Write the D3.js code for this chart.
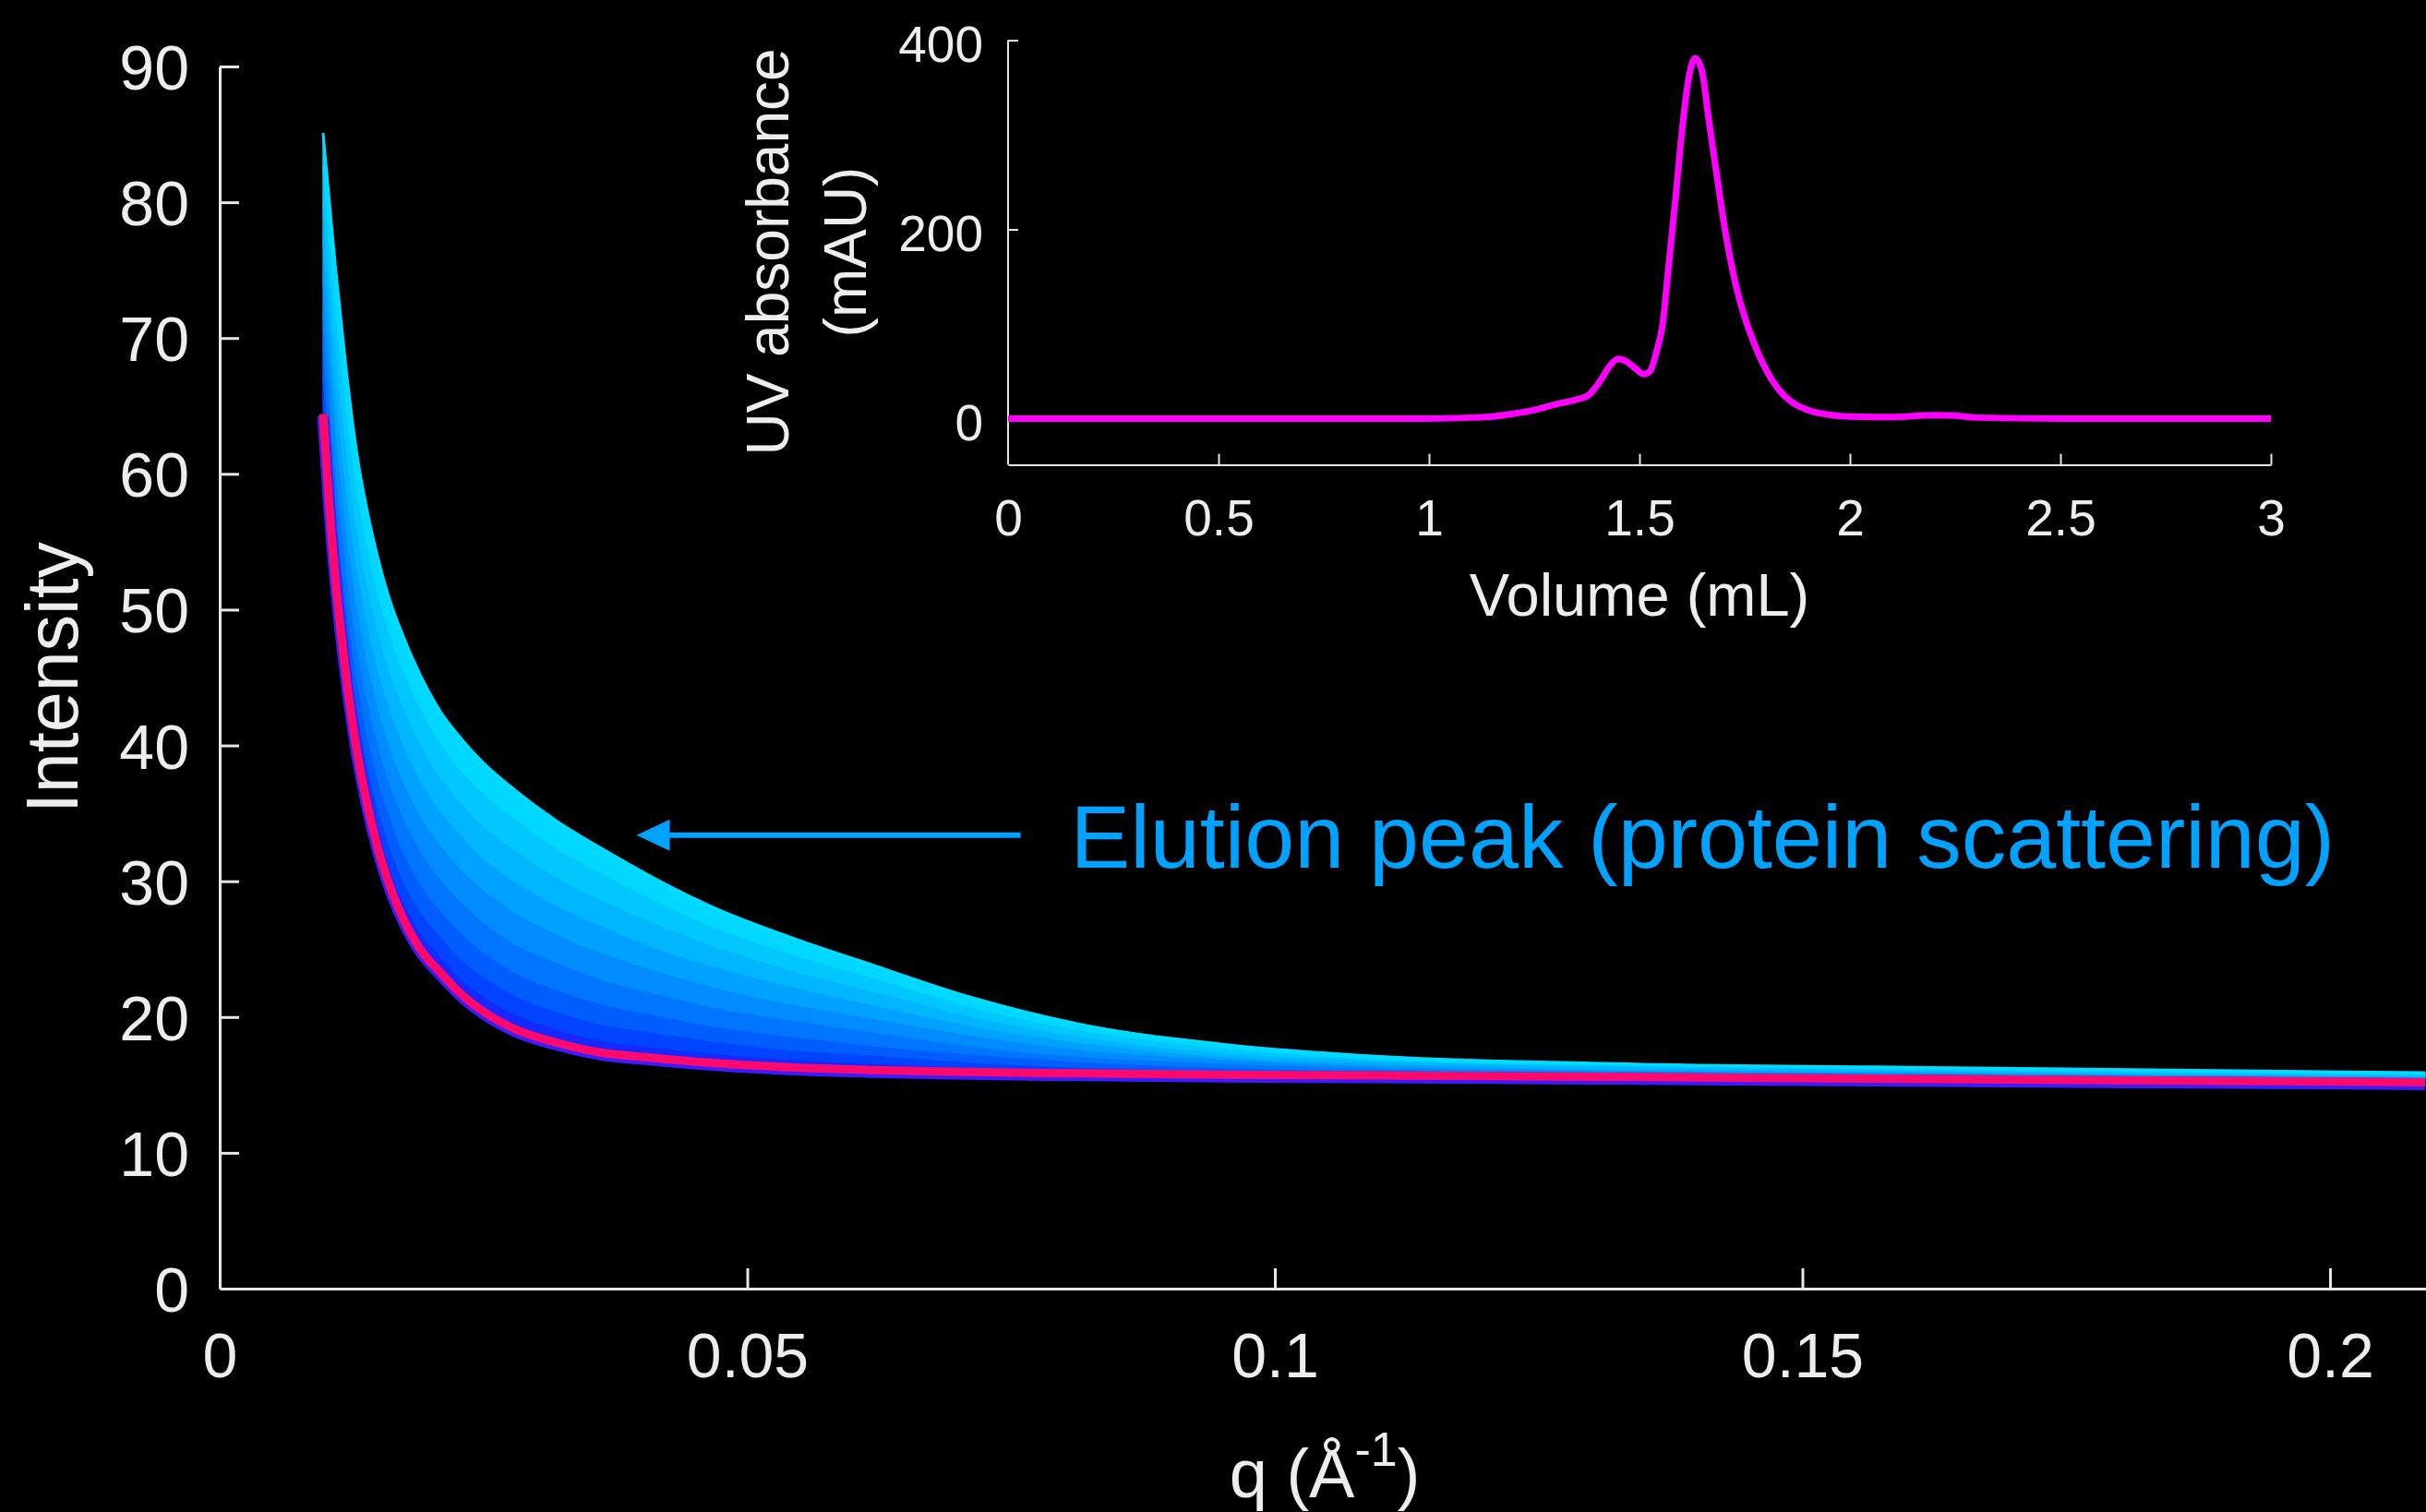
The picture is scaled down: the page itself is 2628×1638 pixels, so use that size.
<!DOCTYPE html>
<html>
<head>
<meta charset="utf-8">
<script src="https://cdn.jsdelivr.net/npm/d3@7"></script>
<style>
  html, body { margin: 0; padding: 0; background: #000; overflow: hidden; }
  text { font-family: "Liberation Sans", Arial, Helvetica, sans-serif; }
</style>
</head>
<body>
<svg id="chart"></svg>
<script>
// ---- SAXS frames across the elution (intensity vs q) ----
const qGrid = [0.0098, 0.0104, 0.011, 0.012, 0.013, 0.014, 0.015, 0.016, 0.017, 0.019,
               0.021, 0.023, 0.025, 0.028, 0.032, 0.036, 0.041, 0.047, 0.054, 0.062,
               0.071, 0.082, 0.095, 0.11, 0.13, 0.16, 0.209];

// buffer-only scattering (drawn in pink)
const bufferCurve = [64.4, 57.5, 52.0, 45.0, 39.6, 35.6, 32.4, 29.9, 27.9, 25.0,
                     23.2, 21.6, 20.4, 19.1, 18.1, 17.4, 17.0, 16.6, 16.3, 16.1,
                     15.95, 15.85, 15.75, 15.7, 15.6, 15.45, 15.2];

// frames rising through the elution peak, lowest to highest
const frame1 = [65.6, 58.9, 53.4, 46.4, 40.9, 36.9, 33.7, 31.2, 29.2, 26.2,
                24.4, 22.7, 21.5, 20.2, 19.1, 18.3, 17.8, 17.3, 16.9, 16.6,
                16.3, 16.1, 15.9, 15.8, 15.7, 15.5, 15.2];
const frame2 = [67.3, 60.7, 55.2, 48.2, 42.7, 38.6, 35.4, 32.9, 30.8, 27.8,
                25.9, 24.2, 23.0, 21.6, 20.4, 19.5, 18.9, 18.2, 17.6, 17.2,
                16.7, 16.3, 16.1, 15.9, 15.7, 15.6, 15.3];
const frame3 = [69.4, 62.9, 57.5, 50.4, 44.9, 40.8, 37.5, 35.0, 32.9, 29.8,
                27.8, 26.1, 24.8, 23.3, 22.0, 21.0, 20.2, 19.3, 18.6, 17.9,
                17.3, 16.7, 16.3, 16.0, 15.8, 15.7, 15.4];
const frame4 = [71.9, 65.6, 60.3, 53.1, 47.5, 43.4, 40.1, 37.5, 35.4, 32.3,
                30.1, 28.4, 27.0, 25.4, 24.0, 22.8, 21.8, 20.7, 19.8, 18.9,
                17.9, 17.1, 16.6, 16.2, 16.0, 15.8, 15.5];
const frame5 = [74.5, 68.5, 63.3, 56.1, 50.3, 46.2, 42.9, 40.2, 38.1, 34.9,
                32.6, 30.8, 29.4, 27.7, 26.1, 24.8, 23.5, 22.2, 21.0, 19.9,
                18.7, 17.6, 16.9, 16.4, 16.1, 15.9, 15.5];
const frame6 = [77.2, 71.5, 66.3, 59.0, 53.2, 49.0, 45.7, 43.0, 40.9, 37.5,
                35.1, 33.3, 31.7, 30.0, 28.2, 26.8, 25.2, 23.7, 22.3, 20.9,
                19.4, 18.1, 17.1, 16.6, 16.2, 16.0, 15.6];
const frame7 = [79.9, 74.4, 69.3, 62.0, 56.0, 51.8, 48.5, 45.7, 43.6, 40.2,
                37.6, 35.7, 34.1, 32.3, 30.3, 28.7, 27.0, 25.2, 23.5, 21.9,
                20.1, 18.5, 17.4, 16.8, 16.4, 16.1, 15.7];
const frame8 = [82.6, 77.3, 72.2, 64.9, 58.9, 54.6, 51.2, 48.5, 46.3, 42.8,
                40.1, 38.1, 36.5, 34.6, 32.4, 30.7, 28.7, 26.6, 24.7, 22.9,
                20.8, 19.0, 17.7, 16.9, 16.5, 16.2, 15.8];
const frame9 = [85.1, 80.0, 75.0, 67.6, 61.5, 57.2, 53.8, 51.0, 48.8, 45.2,
                42.4, 40.4, 38.7, 36.7, 34.4, 32.5, 30.3, 28.0, 25.9, 23.8,
                21.5, 19.4, 18.0, 17.1, 16.6, 16.3, 15.9];

const frameColors = ["#1428ff", "#0044ff", "#005eff", "#0076ff", "#008cff",
                     "#00a2ff", "#00b6ff", "#00c8ff", "#00d8ff"];
const bufferColor = "#ff0a6c";

const qTicks = [0, 0.05, 0.1, 0.15, 0.2];
const intensityTicks = [0, 10, 20, 30, 40, 50, 60, 70, 80, 90];

// ---- UV trace of the size-exclusion run (inset) ----
const volume = [0, 0.5, 1.0, 1.1, 1.15, 1.2, 1.25, 1.3, 1.35, 1.38,
                1.41, 1.43, 1.45, 1.47, 1.49, 1.51, 1.525, 1.54, 1.555, 1.57,
                1.585, 1.60, 1.615, 1.632, 1.648, 1.664, 1.68, 1.69, 1.70, 1.71,
                1.72, 1.735, 1.75, 1.765, 1.78, 1.80, 1.83, 1.86, 1.90, 1.95,
                2.0, 2.1, 2.2, 2.25, 2.3, 2.5, 3.0];
const absorbance = [0, 0, 0, 1, 2, 5, 9, 15, 20, 25,
                    42, 56, 63, 60, 53, 47, 50, 70, 100, 165,
                    230, 300, 355, 381, 368, 318, 268, 238, 208, 182,
                    159, 130, 107, 88, 71, 52, 31, 18, 9, 4,
                    2, 1.5, 3.5, 3, 1, 0, 0];
const volumeTicks = [0, 0.5, 1, 1.5, 2, 2.5, 3];
const absorbanceTicks = [0, 200, 400];

const annotationLabel = "Elution peak (protein scattering)";
const arrowTip = [0.0395, 33.4];   // q, intensity
const arrowTailQ = 0.0759;

// ---- layout ----
const W = 2628, H = 1638;
const axisColor = "#e6e6e6";
const svg = d3.select("#chart").attr("width", W).attr("height", H);
svg.append("rect").attr("width", W).attr("height", H).attr("fill", "#000");

const x = d3.scaleLinear().domain([0, 0.2091]).range([238, 2628]);
const y = d3.scaleLinear().domain([0, 90]).range([1396, 72]);

// filled bands between consecutive frames
const frames = [bufferCurve, frame1, frame2, frame3, frame4, frame5, frame6, frame7, frame8, frame9];
const bands = svg.append("g");
for (let k = 1; k < frames.length; k++) {
  const lower = frames[k - 1], upper = frames[k];
  const area = d3.area()
    .x((d, i) => x(qGrid[i]))
    .y0((d, i) => y(lower[i]))
    .y1((d, i) => y(upper[i]))
    .curve(d3.curveMonotoneX);
  bands.append("path").datum(upper)
    .attr("d", area)
    .attr("fill", frameColors[k - 1])
    .attr("stroke", frameColors[k - 1])
    .attr("stroke-width", 1.5);
}
const line = d3.line().x((d, i) => x(qGrid[i])).y(d => y(d)).curve(d3.curveMonotoneX);
svg.append("path").datum(frame9).attr("d", line)
  .attr("fill", "none").attr("stroke", "#00dcff").attr("stroke-width", 3);
// bluish fringe just under the buffer line
svg.append("path").datum(bufferCurve).attr("d", line)
  .attr("fill", "none").attr("stroke", "#3a1cff").attr("stroke-width", 13)
  .attr("transform", "translate(0,2)");
svg.append("path").datum(bufferCurve).attr("d", line)
  .attr("fill", "none").attr("stroke", bufferColor).attr("stroke-width", 9)
  .attr("stroke-linejoin", "round");

// main axes
function styleAxis(g, width, fontSize) {
  g.select(".domain").attr("stroke", axisColor).attr("stroke-width", width);
  g.selectAll(".tick line").attr("stroke", axisColor).attr("stroke-width", width);
  g.selectAll(".tick text").attr("fill", "#ededed").attr("font-size", fontSize)
    .attr("font-family", '"Liberation Sans", Arial, Helvetica, sans-serif');
}
const fmt = d3.format("");
const xAxis = svg.append("g").attr("transform", "translate(0,1396)")
  .call(d3.axisBottom(x).tickValues(qTicks).tickFormat(fmt).tickSizeInner(-22).tickSizeOuter(0).tickPadding(48));
styleAxis(xAxis, 3, 68);
xAxis.selectAll(".tick").filter(d => d === 0).select("line").remove();
const yAxis = svg.append("g").attr("transform", "translate(238,0)")
  .call(d3.axisLeft(y).tickValues(intensityTicks).tickFormat(fmt).tickSizeInner(-21).tickSizeOuter(0).tickPadding(33));
styleAxis(yAxis, 3, 68);
yAxis.selectAll(".tick text").attr("dy", "0.36em");
yAxis.selectAll(".tick").filter(d => d === 0).select("line").remove();

svg.append("text")
  .attr("transform", "translate(84,734) rotate(-90)")
  .attr("text-anchor", "middle").attr("fill", "#ededed").attr("font-size", 79)
  .text("Intensity");

const qTitle = svg.append("text")
  .attr("x", 1435).attr("y", 1622)
  .attr("text-anchor", "middle").attr("fill", "#ededed").attr("font-size", 74);
qTitle.append("tspan").text("q (Å");
qTitle.append("tspan").attr("font-size", 52).attr("dy", -34).text("-1");
qTitle.append("tspan").attr("dy", 34).text(")");

// annotation arrow + label
const ax0 = x(arrowTip[0]), ay = y(arrowTip[1]), ax1 = x(arrowTailQ);
svg.append("line").attr("x1", ax0 + 30).attr("x2", ax1).attr("y1", ay).attr("y2", ay)
  .attr("stroke", "#00a2ff").attr("stroke-width", 6);
svg.append("path")
  .attr("d", `M${ax0},${ay} L${ax0 + 36},${ay - 17} L${ax0 + 36},${ay + 17} Z`)
  .attr("fill", "#00a2ff");
svg.append("text")
  .attr("x", ax1 + 54).attr("y", ay + 35)
  .attr("fill", "#00a2ff").attr("font-size", 97)
  .text(annotationLabel);

// ---- inset: UV absorbance ----
const xi = d3.scaleLinear().domain([0, 3]).range([1092, 2460]);
const yi = d3.scaleLinear().domain([-49, 400]).range([503.6, 43.6]);

const xiAxis = svg.append("g").attr("transform", "translate(0,503.6)")
  .call(d3.axisBottom(xi).tickValues(volumeTicks).tickFormat(fmt).tickSizeInner(-12).tickSizeOuter(0).tickPadding(37));
styleAxis(xiAxis, 2, 55);
xiAxis.selectAll(".tick").filter(d => d === 0).select("line").remove();
const yiAxis = svg.append("g").attr("transform", "translate(1092,0)")
  .call(d3.axisLeft(yi).tickValues(absorbanceTicks).tickFormat(fmt).tickSizeInner(-11).tickSizeOuter(0).tickPadding(27));
styleAxis(yiAxis, 2, 55);
yiAxis.selectAll(".tick text").attr("dy", "0.42em");
// extend the inset y axis down to the x axis
yiAxis.select(".domain").attr("d", `M0,${yi(400)}V${yi(-49)}`);

svg.append("path").datum(absorbance)
  .attr("d", d3.line().x((d, i) => xi(volume[i])).y(d => yi(d)).curve(d3.curveMonotoneX))
  .attr("fill", "none").attr("stroke", "#ff00ff").attr("stroke-width", 7)
  .attr("stroke-linejoin", "round");

svg.append("text")
  .attr("x", 1776).attr("y", 667)
  .attr("text-anchor", "middle").attr("fill", "#ededed").attr("font-size", 65)
  .text("Volume (mL)");
svg.append("text")
  .attr("transform", "translate(854,273) rotate(-90)")
  .attr("text-anchor", "middle").attr("fill", "#ededed").attr("font-size", 64)
  .text("UV absorbance");
svg.append("text")
  .attr("transform", "translate(938,273) rotate(-90)")
  .attr("text-anchor", "middle").attr("fill", "#ededed").attr("font-size", 64)
  .text("(mAU)");
</script>
</body>
</html>
